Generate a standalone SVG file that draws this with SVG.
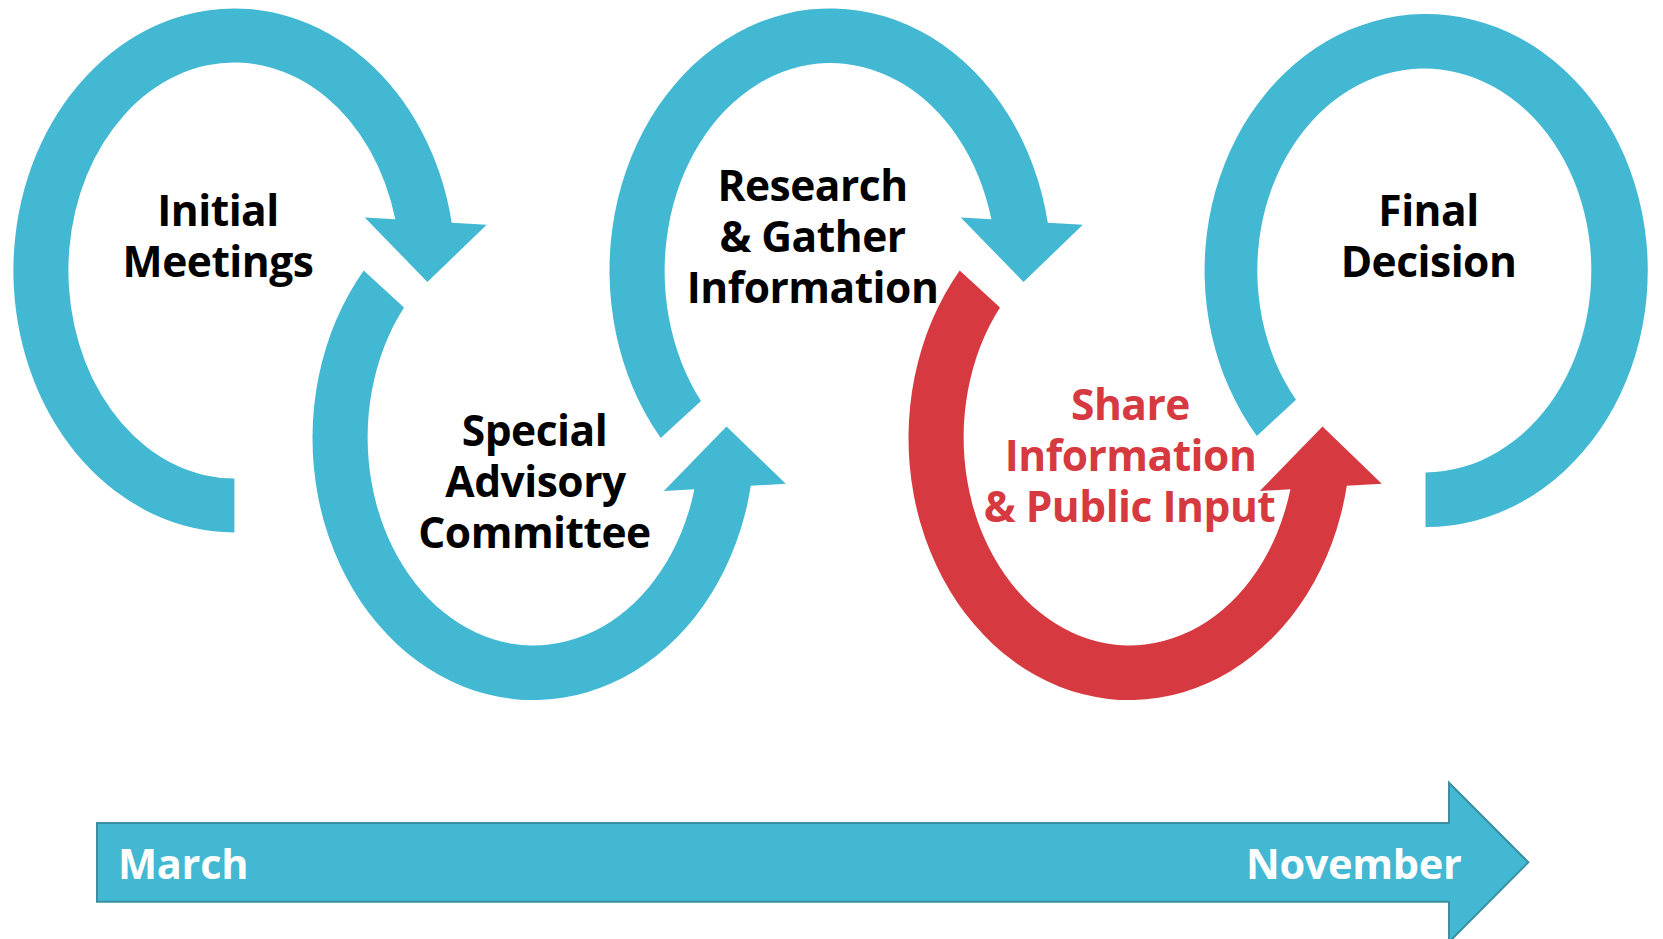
<svg xmlns="http://www.w3.org/2000/svg" width="1663" height="939" viewBox="0 0 1663 939">
<style>
.teal{fill:#42B8D3}
.red{fill:#D63A40}
.lbl{font-family:"Open Sans","Noto Sans","Liberation Sans",sans-serif;font-weight:700;font-size:42.5px;text-anchor:middle;fill:#000;letter-spacing:-0.5px}
.lbl.r{fill:#D63A40}
.tl{font-family:"Open Sans","Noto Sans","Liberation Sans",sans-serif;font-weight:700;font-size:41.5px;fill:#fff;letter-spacing:-0.3px}
</style>
<defs>
<path id="arcA" d="M -169.8 167.6 A 221 262 0 1 1 217.3 -47.8 L 252.3 -45.7 L 193 11.5 L 130.3 -53.1 L 160.9 -51.2 A 166 208 0 1 0 -129.5 130.5 Z"/>
</defs>
<rect width="1663" height="939" fill="#fff"/>
<g id="initial-meetings">
<path class="teal" transform="translate(234.4,270.5)" d="M 0 262 A 221 262 0 1 1 217.3 -47.8 L 252.3 -45.7 L 193 11.5 L 130.3 -53.1 L 160.9 -51.2 A 166 208 0 1 0 0 208 Z"/>
<text class="lbl" x="218" y="226">Initial</text>
<text class="lbl" x="218" y="277">Meetings</text>
</g>
<g id="special-advisory-committee">
<use href="#arcA" class="teal" transform="translate(533.5,438) scale(1,-1)"/>
<text class="lbl" x="534.5" y="445.5">Special</text>
<text class="lbl" x="535.5" y="496.5">Advisory</text>
<text class="lbl" x="534.5" y="547.5">Committee</text>
</g>
<g id="research-gather">
<use href="#arcA" class="teal" transform="translate(830.5,270.5)"/>
<text class="lbl" x="812.5" y="200.5">Research</text>
<text class="lbl" x="812.5" y="251.5">&amp; Gather</text>
<text class="lbl" x="812.5" y="302.5">Information</text>
</g>
<g id="share-public-input">
<use href="#arcA" class="red" transform="translate(1129.5,438) scale(1,-1)"/>
<text class="lbl r" x="1130.5" y="420">Share</text>
<text class="lbl r" x="1130.5" y="471">Information</text>
<text class="lbl r" x="1129.5" y="522">&amp; Public Input</text>
</g>
<g id="final-decision">
<path class="teal" transform="translate(1425.5,270.5)" d="M -168.7 165.4 A 221.6 256.5 0 1 1 0 256.5 L 0 202 A 167 202 0 1 0 -129.5 129.3 Z"/>
<text class="lbl" x="1428.5" y="226">Final</text>
<text class="lbl" x="1428.5" y="277">Decision</text>
</g>
<g id="connectors">
<g id="timeline">
<path d="M 97 823 L 1449 823 L 1449 782.7 L 1528.3 862.3 L 1449 942 L 1449 901.7 L 97 901.7 Z" fill="#42B8D3" stroke="#3A8FA3" stroke-width="2"/>
<text class="tl" x="118" y="879.3">March</text>
<text class="tl" x="1461.5" y="879.3" text-anchor="end">November</text>
</g>
</g>
</svg>
